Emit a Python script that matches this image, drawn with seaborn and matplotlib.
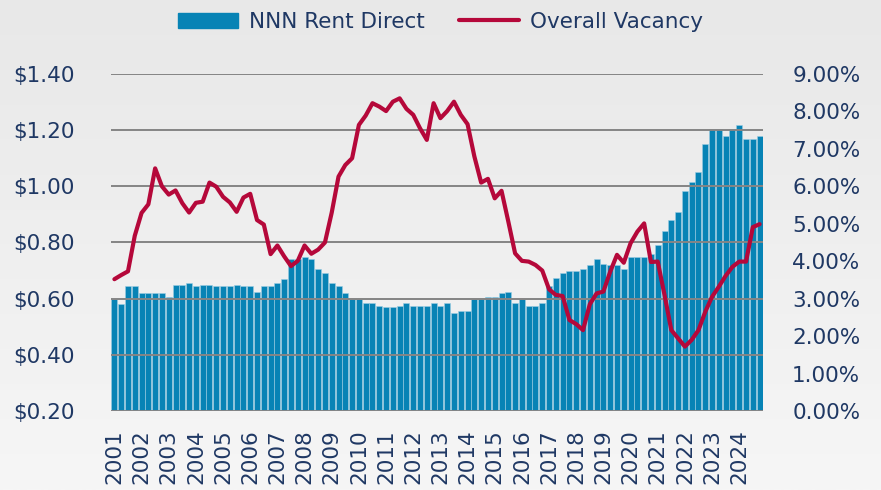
import numpy as np
import pandas as pd
import matplotlib
matplotlib.use("Agg")
import matplotlib.pyplot as plt
import seaborn as sns
from matplotlib.patches import Patch
from matplotlib.lines import Line2D
from matplotlib.ticker import FuncFormatter, FixedLocator
from matplotlib.colors import LinearSegmentedColormap

years = list(range(2001, 2025))

rent = [0.60, 0.58, 0.645, 0.645, 0.62, 0.62, 0.62, 0.62,
        0.605, 0.65, 0.65, 0.655, 0.645, 0.65, 0.65, 0.645,
        0.645, 0.645, 0.65, 0.645, 0.645, 0.625, 0.645, 0.645,
        0.655, 0.67, 0.74, 0.74, 0.75, 0.74, 0.705, 0.69,
        0.655, 0.645, 0.62, 0.60, 0.60, 0.585, 0.585, 0.575,
        0.57, 0.57, 0.575, 0.585, 0.575, 0.575, 0.575, 0.585,
        0.575, 0.585, 0.55, 0.555, 0.555, 0.60, 0.60, 0.605,
        0.605, 0.62, 0.625, 0.585, 0.60, 0.575, 0.575, 0.585,
        0.645, 0.675, 0.69, 0.70, 0.70, 0.705, 0.72, 0.74,
        0.725, 0.72, 0.72, 0.705, 0.75, 0.75, 0.75, 0.76,
        0.79, 0.84, 0.88, 0.91, 0.985, 1.015, 1.05, 1.15,
        1.205, 1.205, 1.18, 1.205, 1.22, 1.17, 1.17, 1.18]

vacancy = [3.52, 3.63, 3.73, 4.68, 5.29, 5.52, 6.48, 6.00,
           5.78, 5.89, 5.55, 5.30, 5.56, 5.59, 6.10, 5.99,
           5.72, 5.57, 5.32, 5.70, 5.80, 5.10, 4.98, 4.19,
           4.42, 4.13, 3.87, 4.01, 4.42, 4.20, 4.31, 4.50,
           5.30, 6.26, 6.57, 6.75, 7.64, 7.89, 8.22, 8.13,
           8.01, 8.26, 8.35, 8.07, 7.91, 7.55, 7.24, 8.22,
           7.82, 8.01, 8.26, 7.91, 7.66, 6.80, 6.10, 6.20,
           5.68, 5.88, 5.06, 4.21, 4.01, 3.99, 3.90, 3.75,
           3.25, 3.10, 3.07, 2.43, 2.32, 2.16, 2.85, 3.14,
           3.19, 3.72, 4.17, 3.96, 4.48, 4.79, 5.01, 3.98,
           3.99, 3.10, 2.16, 1.94, 1.72, 1.90, 2.16, 2.65,
           3.05, 3.32, 3.61, 3.85, 3.99, 3.99, 4.91, 4.99]

quarters = [f"{y}Q{q}" for y in years for q in range(1, 5)]
year_labels = [str(y) for y in years]
rent_ticks = [0.20, 0.40, 0.60, 0.80, 1.00, 1.20, 1.40]
vac_ticks = [0, 1, 2, 3, 4, 5, 6, 7, 8, 9]

df = pd.DataFrame({"quarter": quarters, "rent": rent,
                   "vacancy": [v / 100 for v in vacancy]})
df["pos"] = np.arange(len(df))

BAR = "#0783B5"
LINE = "#B5083A"
TXT = "#1F3864"
GRID = "#858585"
FS = 15.5

sns.set_theme(style="white")
plt.rcParams["font.family"] = ["DejaVu Sans"]

fig = plt.figure(figsize=(8.81, 4.90), dpi=100)

# background gradient
bg = fig.add_axes([0, 0, 1, 1], zorder=-10)
grad = np.linspace(0, 1, 256).reshape(-1, 1)
cmap = LinearSegmentedColormap.from_list("bg", ["#E8E8E8", "#F6F6F6"])
bg.imshow(grad, aspect="auto", cmap=cmap, extent=[0, 1, 0, 1])
bg.set_axis_off()

ax = fig.add_axes([111 / 881, 1 - 411 / 490, (763 - 111) / 881, (411 - 74) / 490])
ax.set_facecolor("none")

sns.barplot(data=df, x="quarter", y="rent", ax=ax, color=BAR, saturation=1,
            width=0.88, edgecolor="#9CCDE3", linewidth=0.4, zorder=1)

ax.set_ylim(0.20, 1.40)
ax.set_xlim(-0.5, len(df) - 0.5)
ax.yaxis.set_major_locator(FixedLocator(rent_ticks))
ax.yaxis.set_major_formatter(FuncFormatter(lambda v, p: f"${v:.2f}"))
ax.set_xticks(np.arange(0, len(df), 4))
ax.set_xticklabels(year_labels, rotation=90)
ax.set_xlabel("")
ax.set_ylabel("")
ax.grid(False)
for v in rent_ticks:
    ax.axhline(v, color=GRID, lw=1.4, zorder=2)
for s in ax.spines.values():
    s.set_visible(False)
ax.tick_params(axis="both", length=0, labelsize=FS, labelcolor=TXT)
ax.tick_params(axis="y", pad=26)
ax.tick_params(axis="x", pad=13)

ax2 = ax.twinx()
sns.lineplot(data=df, x="pos", y="vacancy", ax=ax2, color=LINE, linewidth=3.0,
             zorder=5)
ax2.set_ylim(0, 0.09)
ax2.set_xlim(-0.5, len(df) - 0.5)
ax2.yaxis.set_major_locator(FixedLocator([t / 100 for t in vac_ticks]))
ax2.yaxis.set_major_formatter(FuncFormatter(lambda v, p: f"{v * 100:.2f}%"))
ax2.set_ylabel("")
ax2.set_xlabel("")
ax2.grid(False)
for s in ax2.spines.values():
    s.set_visible(False)
ax2.tick_params(axis="y", length=0, labelsize=FS, labelcolor=TXT, pad=21)

handles = [Patch(facecolor=BAR, edgecolor=BAR),
           Line2D([0], [0], color=LINE, lw=3.0)]
labels = ["NNN Rent Direct", "Overall Vacancy"]
leg = fig.legend(handles, labels, loc="upper center", ncol=2, frameon=False,
                 bbox_to_anchor=(0.5, 1.015), fontsize=FS, handlelength=2.8,
                 handleheight=0.75, handletextpad=0.5, columnspacing=1.6)
for t in leg.get_texts():
    t.set_color(TXT)

fig.savefig("out.png", dpi=100)
